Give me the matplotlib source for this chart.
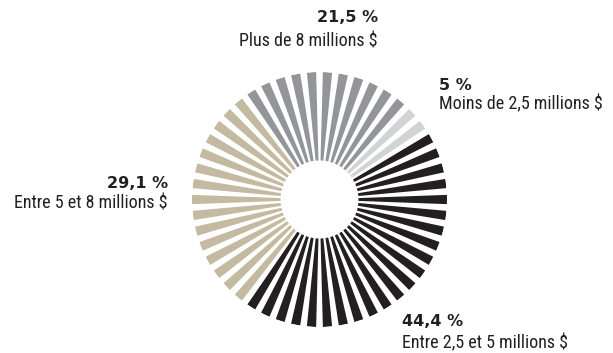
import numpy as np
import matplotlib.pyplot as plt
from matplotlib import font_manager

# data, clockwise from the light grey slice
categories = ["Moins de 2,5 millions $", "Entre 2,5 et 5 millions $",
              "Entre 5 et 8 millions $", "Plus de 8 millions $"]
shares = [5.0, 44.4, 29.1, 21.5]
share_labels = ["5 %", "44,4 %", "29,1 %", "21,5 %"]
colors = ["#d1d3d4", "#231f20", "#c4b9a1", "#939598"]

N_SPOKES = 50
FIRST_SPOKE = 6  # index (clockwise from top) where the first slice begins


def spoke_counts(values, n):
    """Largest-remainder split of n spokes between the slices."""
    raw = np.array(values) / sum(values) * n
    counts = np.floor(raw).astype(int)
    rest = n - counts.sum()
    order = np.argsort(-(raw - counts))
    counts[order[:rest]] += 1
    return counts


def pick_font(names):
    have = {f.name for f in font_manager.fontManager.ttflist}
    for name in names:
        if name in have:
            return name
    return "DejaVu Sans"


label_font = pick_font(["Liberation Sans Narrow", "Roboto Condensed", "Roboto", "DejaVu Sans"])

fig = plt.figure(figsize=(6.13, 3.53), dpi=100)

cx, cy, r_out = 319.5, 199.5, 127.5
W, H = 613, 353
ax = fig.add_axes([(cx - r_out) / W, (H - cy - r_out) / H,
                   2 * r_out / W, 2 * r_out / H], projection="polar")
ax.set_theta_zero_location("N")
ax.set_theta_direction(-1)

step = 2 * np.pi / N_SPOKES
counts = spoke_counts(shares, N_SPOKES)
spoke_colors = np.repeat(colors, counts)
idx = (np.arange(N_SPOKES) + FIRST_SPOKE) % N_SPOKES
theta = (idx + 0.5) * step

inner = 39 / r_out
ax.bar(theta, 1 - inner, width=step * 0.58, bottom=inner,
       color=spoke_colors, linewidth=0, align="center")
ax.set_ylim(0, 1)
ax.set_axis_off()

# labels (pixel coordinates from top-left)
label_pos = [
    (439, 86, 104, "left"),
    (402, 322, 343, "left"),
    (168, 183, 203, "right"),
    (378, 18, 42, "right"),
]
for (x, y_pct, y_txt, ha), pct, cat in zip(label_pos, share_labels, categories):
    fig.text(x / W, 1 - y_pct / H, pct, ha=ha, va="center",
             fontsize=11.5, fontweight="bold", color="#231f20",
             family="DejaVu Sans")
    fig.text(x / W, 1 - y_txt / H, cat, ha=ha, va="center",
             fontsize=13, color="#231f20", family=label_font)

fig.savefig("out.png", dpi=100)
